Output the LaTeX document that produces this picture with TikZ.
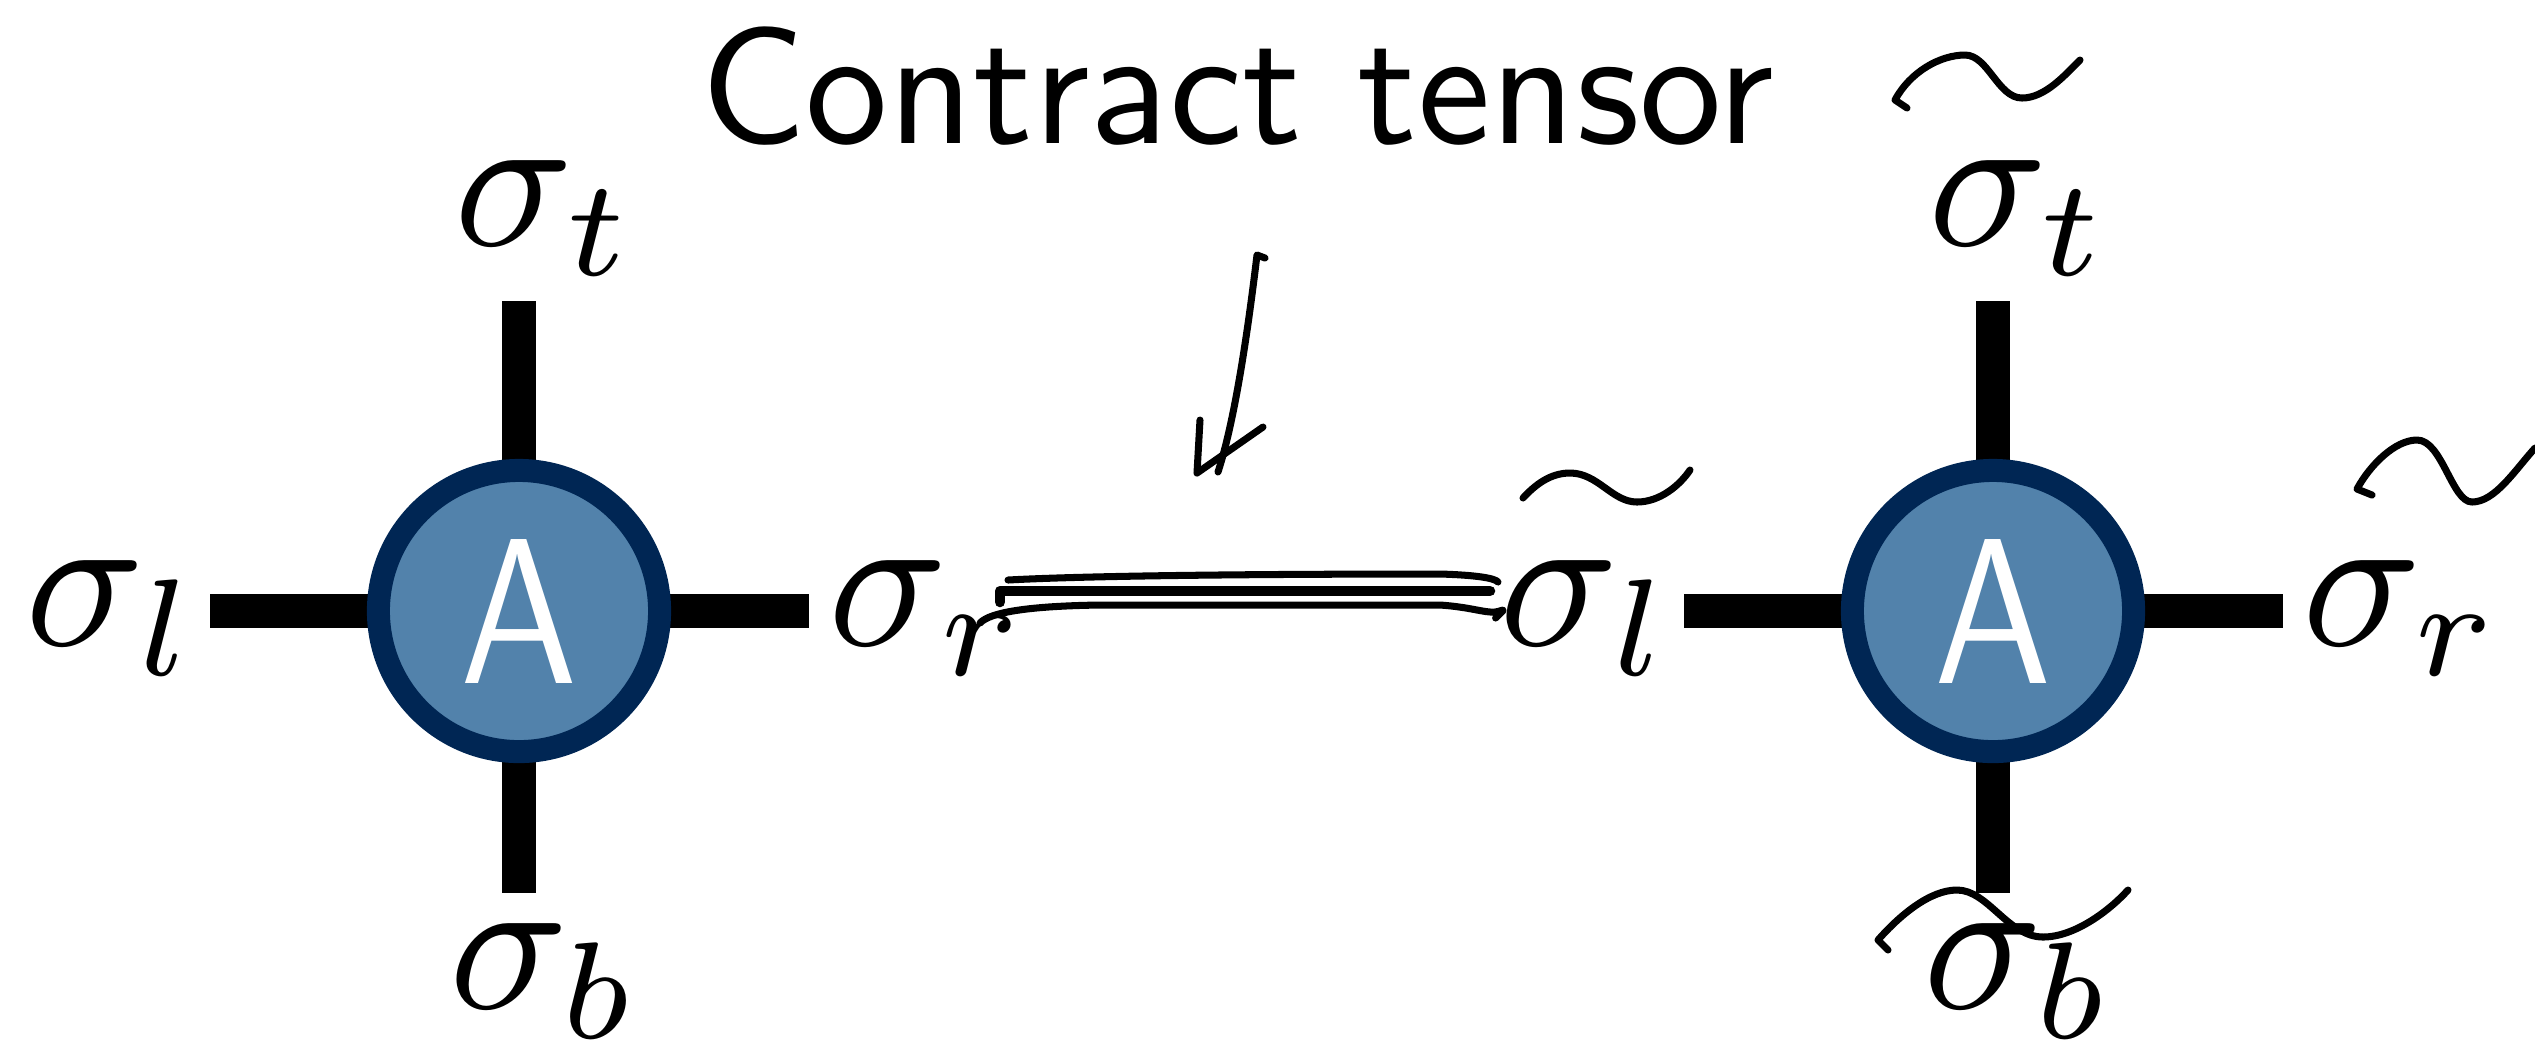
\documentclass[tikz,border=0pt]{standalone}
\usepackage{graphicx}
\usepackage{tikz}
\usetikzlibrary{positioning}
\definecolor{tensorfill}{rgb}{0.32,0.51,0.67}
\definecolor{tensorring}{rgb}{0.0,0.15,0.33}
\tikzset{
  tensor/.style={
    circle,
    draw=tensorring,
    fill=tensorfill,
    line width=0.23cm,
    minimum size=2.81cm,
    inner sep=0pt,
    text=white,
    font=\sffamily
  },
  leg/.style={
    line width=0.34cm,
    black
  },
  idx/.style={
    inner sep=0pt,
    scale=5.6
  },
  note/.style={
    inner sep=0pt,
    scale=4.7,
    font=\sffamily
  },
  pen/.style={
    line width=2pt,
    line cap=round,
    line join=round
  }
}

\begin{document}
\begin{tikzpicture}[x=0.01cm, y=-0.01cm]
\useasboundingbox (0,0) rectangle (2535,1056);
% two tensors with four legs each
\foreach \n/\x in {1/519,2/1993}{
  \coordinate (t\n) at (\x,301);
  \coordinate (b\n) at (\x,893);
  \coordinate (l\n) at (\x-309,611);
  \coordinate (r\n) at (\x+290,611);
  \draw[leg] (t\n) -- (b\n);
  \draw[leg] (l\n) -- (r\n);
  \node[tensor] (A\n) at (\x,611) {\scalebox{5.0}[5.9]{A}};
  \node[idx] (st\n) at (\x+26,218) {$\sigma_t$};
  \node[idx] (sl\n) at (\x-407,618) {$\sigma_l$};
  \node[idx] (sr\n) at (\x+409,618) {$\sigma_r$};
  \node[idx] (sb\n) at (\x+26,981) {$\sigma_b$};
}
% handwritten notes
\node[note] (title) at (1237,86) {Contract tensor};
\draw[pen] (1265,258) -- (1257,255) .. controls (1248,330) and (1235,420) .. (1218,472);
\draw[pen] (1200,420) -- (1197,473) -- (1263,427);
% contraction strokes
\draw[pen] (1008,580) .. controls (1100,575) and (1300,574) .. (1440,574) .. controls (1475,575) and (1495,578) .. (1498,582);
\draw[pen, line width=3pt] (1000,602) -- (1000,591) -- (1490,591);
\draw[pen] (980,623) .. controls (990,612) and (1030,606) .. (1100,605) -- (1440,605) .. controls (1470,607) and (1485,613) .. (1495,612) .. controls (1503,611) and (1508,606) .. (sl2.west);
% tildes
\draw[pen] (1907,108) -- (1895,100) .. controls (1910,72) and (1940,55) .. (1965,55) .. controls (1988,55) and (1998,98) .. (2022,98) .. controls (2045,98) and (2065,75) .. (2080,60);
\draw[pen] (1523,498) .. controls (1535,485) and (1550,473) .. (1570,473) .. controls (1598,473) and (1612,502) .. (1637,502) .. controls (1660,502) and (1680,485) .. (1690,470);
\draw[pen] (2372,495) -- (2357,489) .. controls (2370,465) and (2395,440) .. (2417,440) .. controls (2442,440) and (2452,502) .. (2472,502) .. controls (2495,502) and (2515,470) .. (2535,448);
\draw[pen] (1888,950) -- (1878,940) .. controls (1900,915) and (1930,890) .. (1957,890) .. controls (1988,890) and (2008,937) .. (2043,937) .. controls (2075,937) and (2110,910) .. (2128,890);
\end{tikzpicture}
\end{document}
